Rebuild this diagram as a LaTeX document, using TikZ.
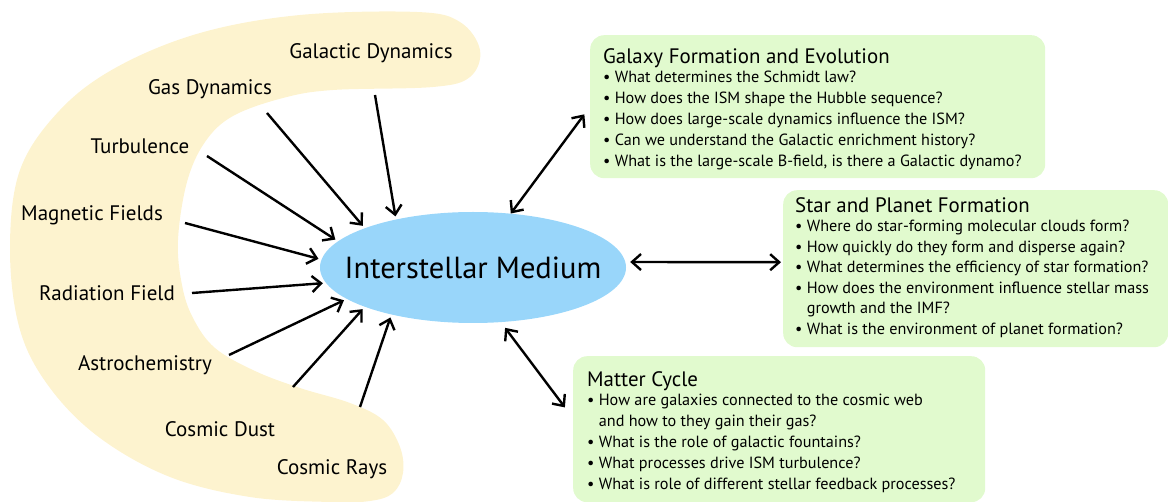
\documentclass[tikz,border=0pt]{standalone}
\usepackage{fontspec}
\setmainfont{PT Sans}
\usetikzlibrary{arrows.meta,shapes.geometric}

\definecolor{bandfill}{RGB}{253,243,207}
\definecolor{ismfill}{RGB}{153,214,250}
\definecolor{boxfill}{RGB}{225,250,206}

\newcommand{\qhead}[1]{{\fontsize{20.9}{21}\selectfont #1}}
\newcommand{\qline}[1]{\textbullet\ #1}
\newcommand{\qcont}[1]{\phantom{\textbullet\ }#1}

\begin{document}
\begin{tikzpicture}[x=1pt,y=-1pt,
  topic/.style={font=\fontsize{21}{23}\selectfont,inner sep=0pt},
  qbox/.style={fill=boxfill,rounded corners=14pt,anchor=north west,inner sep=0pt},
  qtext/.style={anchor=north west,inner sep=0pt,align=left,font=\fontsize{16.2}{21}\selectfont},
  feed/.style={line width=2.4pt,-{Straight Barb[length=9pt,width=16pt]},shorten >=3pt},
  link/.style={line width=2.4pt,{Straight Barb[length=9pt,width=16pt]}-{Straight Barb[length=9pt,width=16pt]}}]

\useasboundingbox (0,0) rectangle (1168,502);

% Band of processes
\fill[bandfill] plot[smooth cycle,tension=0.6] coordinates {
(300,15) (417,12) (460,22) (480,50) (470,77) (433,87) (333,90) (283,98)
(233,116) (205,142) (187,182) (178,240) (182,285) (193,318) (215,348)
(255,371) (300,388) (350,403) (383,420) (400,447) (403,473) (393,493)
(370,501) (330,502) (250,497) (170,477) (100,438) (50,388) (20,330)
(10,250) (20,170) (60,110) (117,67) (200,33)};

% Central ellipse
\node[ellipse,fill=ismfill,minimum width=306pt,minimum height=111pt,inner sep=0pt,
  font=\fontsize{30.5}{32}\selectfont] (ism) at (473,267.5) {\makebox[0pt]{Interstellar Medium}};

% Processes
\node[topic] (gd) at (371,53) {Galactic Dynamics};
\node[topic] (gas) at (210,89) {Gas Dynamics};
\node[topic] (turb) at (140,146) {Turbulence};
\node[topic] (mag) at (92,215) {Magnetic Fields};
\node[topic] (rad) at (107,293) {Radiation Field};
\node[topic] (astro) at (145,365) {Astrochemistry};
\node[topic] (dust) at (220,429) {Cosmic Dust};
\node[topic] (rays) at (332,469) {Cosmic Rays};

\coordinate (gd-t) at (375,95);
\coordinate (gas-t) at (267,113);
\coordinate (turb-t) at (207,156);
\coordinate (mag-t) at (185,223);
\coordinate (rad-t) at (192,293);
\coordinate (astro-t) at (229,355);
\coordinate (dust-t) at (293,387);
\coordinate (rays-t) at (360,407);

\draw[feed] (gd-t) -- (ism.148);
\draw[feed] (gas-t) -- (ism.160);
\draw[feed] (turb-t) -- (ism.169);
\draw[feed] (mag-t) -- (ism.177);
\draw[feed] (rad-t) -- (ism.186);
\draw[feed] (astro-t) -- (ism.194);
\draw[feed] (dust-t) -- (ism.200);
\draw[feed] (rays-t) -- (ism.210);

% Question boxes
\node[qbox,minimum width=455pt,minimum height=143pt] (galaxy) at (590,35) {};
\node[qbox,minimum width=385pt,minimum height=157pt] (star) at (783,190) {};
\node[qbox,minimum width=412pt,minimum height=146pt] (matter) at (573,356) {};

\node[qtext] (galaxy-q) at (603,48) {\qhead{Galaxy Formation and Evolution}\\[-2pt]
\qline{What determines the Schmidt law?}\\
\qline{How does the ISM shape the Hubble sequence?}\\
\qline{How does large-scale dynamics influence the ISM?}\\
\qline{Can we understand the Galactic enrichment history?}\\
\qline{What is the large-scale B-field, is there a Galactic dynamo?}};

\node[qtext,font=\fontsize{16.2}{20.5}\selectfont] (star-q) at (795,197) {\qhead{Star and Planet Formation}\\[-1pt]
\qline{Where do star-forming molecular clouds form?}\\
\qline{How quickly do they form and disperse again?}\\
\qline{What determines the efficiency of star formation?}\\
\qline{How does the environment influence stellar mass}\\
\qcont{growth and the IMF?}\\
\qline{What is the environment of planet formation?}};

\node[qtext] (matter-q) at (587,371) {\qhead{Matter Cycle}\\[-2pt]
\qline{How are galaxies connected to the cosmic web}\\
\qcont{and how to they gain their gas?}\\
\qline{What is the role of galactic fountains?}\\
\qline{What processes drive ISM turbulence?}\\
\qline{What is role of different stellar feedback processes?}};

% Links to the boxes
\draw[link,shorten >=9.5pt] (ism.55) -- (galaxy.west);
\draw[link,shorten <=4pt,shorten >=2pt] ([yshift=5.5pt]ism.east) -- ([yshift=6.5pt]star.west);
\draw[link,shorten <=7pt,shorten >=13.5pt] (ism.-63) -- ([yshift=11pt]matter.west);

\end{tikzpicture}
\end{document}
